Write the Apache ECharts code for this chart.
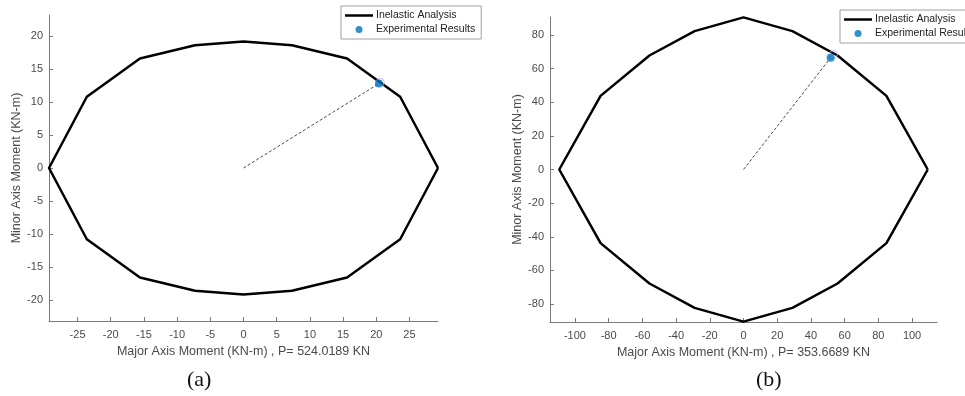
<!DOCTYPE html>
<html>
<head>
<meta charset="utf-8">
<script src="https://cdn.jsdelivr.net/npm/echarts@6/dist/echarts.min.js"></script>
<style>
  html, body { margin: 0; padding: 0; background: #fff; }
  #chart { width: 965px; height: 396px; }
</style>
</head>
<body>
<div id="chart"></div>
<script>
// interaction diagram (a), P = 524.0189 KN
var aMajor = [29.3, 23.6, 15.6, 7.3, 0, -7.3, -15.6, -23.6, -29.3, -23.6, -15.6, -7.3, 0, 7.3, 15.6, 23.6, 29.3];
var aMinor = [0, 10.8, 16.6, 18.6, 19.2, 18.6, 16.6, 10.8, 0, -10.8, -16.6, -18.6, -19.2, -18.6, -16.6, -10.8, 0];
var aExp = [20.4, 12.8];
var aCurve = [20.6, 13.0];
var aXTicks = [-25, -20, -15, -10, -5, 0, 5, 10, 15, 20, 25];
var aYTicks = [-20, -15, -10, -5, 0, 5, 10, 15, 20];

// interaction diagram (b), P = 353.6689 KN
var bMajor = [109.3, 84.8, 55.8, 29, 0, -29, -55.8, -84.8, -109.3, -84.8, -55.8, -29, 0, 29, 55.8, 84.8, 109.3];
var bMinor = [0, 43.8, 67.8, 82.3, 90.5, 82.3, 67.8, 43.8, 0, -43.8, -67.8, -82.3, -90.5, -82.3, -67.8, -43.8, 0];
var bExp = [51.7, 66.5];
var bCurve = [53.3, 68.4];
var bXTicks = [-100, -80, -60, -40, -20, 0, 20, 40, 60, 80, 100];
var bYTicks = [-80, -60, -40, -20, 0, 20, 40, 60, 80];

var FONT = "Liberation Sans";
var AXIS_COLOR = "#7a7a7a";
var TEXT_COLOR = "#4a4a4a";

function pairs(xs, ys) {
  return xs.map(function (x, i) { return [x, ys[i]]; });
}

function xAxisFor(idx, lim, ticks, name) {
  return {
    type: "value", gridIndex: idx, min: -lim, max: lim,
    name: name, nameLocation: "middle", nameGap: 23,
    nameTextStyle: { fontFamily: FONT, fontSize: 12.5, color: TEXT_COLOR },
    axisLine: { onZero: false, lineStyle: { color: AXIS_COLOR, width: 1 } },
    axisTick: { inside: true, length: 4, customValues: ticks, lineStyle: { color: AXIS_COLOR } },
    axisLabel: { customValues: ticks, margin: 8, fontFamily: FONT, fontSize: 11, color: TEXT_COLOR },
    splitLine: { show: false }
  };
}

function yAxisFor(idx, lim, ticks, gap) {
  return {
    type: "value", gridIndex: idx, min: -lim, max: lim,
    name: "Minor Axis Moment (KN-m)", nameLocation: "middle", nameGap: gap,
    nameTextStyle: { fontFamily: FONT, fontSize: 12.5, color: TEXT_COLOR },
    axisLine: { show: true, onZero: false, lineStyle: { color: AXIS_COLOR, width: 1 } },
    axisTick: { show: true, inside: true, length: 4, customValues: ticks, lineStyle: { color: AXIS_COLOR } },
    axisLabel: { customValues: ticks, margin: 6, fontFamily: FONT, fontSize: 11, color: TEXT_COLOR },
    splitLine: { show: false }
  };
}

function seriesFor(idx, major, minor, exp, curve) {
  return [
    {
      name: "Inelastic Analysis", type: "line", xAxisIndex: idx, yAxisIndex: idx,
      data: pairs(major, minor), symbol: "none", silent: true,
      lineStyle: { color: "#000", width: 2.5 }, itemStyle: { color: "#000" }, z: 3
    },
    {
      name: "guide", type: "line", xAxisIndex: idx, yAxisIndex: idx,
      data: [[0, 0], exp], symbol: "none", silent: true,
      lineStyle: { color: "#4a4a4a", width: 1, type: [3, 2] }, z: 2
    },
    {
      name: "curvePoint", type: "scatter", xAxisIndex: idx, yAxisIndex: idx,
      data: [curve], symbolSize: 8, silent: true,
      itemStyle: { color: "rgba(0,0,0,0)", borderColor: "#b4b4f2", borderWidth: 1 }, z: 4
    },
    {
      name: "Experimental Results", type: "scatter", xAxisIndex: idx, yAxisIndex: idx,
      data: [exp], symbolSize: 8, silent: true,
      itemStyle: { color: "#0072BD" }, z: 5
    }
  ];
}

function legendFor(left, top) {
  return {
    data: [
      { name: "Inelastic Analysis", icon: "path://M0,0h28v2.5h-28z", itemStyle: { color: "#000", borderWidth: 0 } },
      { name: "Experimental Results", icon: "circle" }
    ],
    orient: "vertical", left: left, top: top,
    itemWidth: 28, itemHeight: 7, itemGap: 3,
    padding: [4, 6, 4, 4],
    borderColor: "#a0a0a0", borderWidth: 1,
    selectedMode: false,
    textStyle: { fontFamily: FONT, fontSize: 10.5, color: "#222", padding: [0, 0, 0, -2] }
  };
}

var chart = echarts.init(document.getElementById("chart"), null, { renderer: "canvas" });
chart.setOption({
  animation: false,
  backgroundColor: "#fff",
  grid: [
    { left: 49, top: 15, width: 389, height: 306 },
    { left: 550, top: 17, width: 387, height: 305 }
  ],
  xAxis: [
    xAxisFor(0, 29.3, aXTicks, "Major Axis Moment (KN-m) , P= 524.0189 KN"),
    xAxisFor(1, 114.8, bXTicks, "Major Axis Moment (KN-m) , P= 353.6689 KN")
  ],
  yAxis: [
    yAxisFor(0, 23.2, aYTicks, 25),
    yAxisFor(1, 90.7, bYTicks, 26)
  ],
  legend: [legendFor(341, 6), legendFor(840, 10)],
  title: [
    { text: "(a)", left: 182, top: 364, textStyle: { fontFamily: "Liberation Serif", fontSize: 22, fontWeight: "normal", color: "#111" } },
    { text: "(b)", left: 751, top: 364, textStyle: { fontFamily: "Liberation Serif", fontSize: 22, fontWeight: "normal", color: "#111" } }
  ],
  series: seriesFor(0, aMajor, aMinor, aExp, aCurve).concat(seriesFor(1, bMajor, bMinor, bExp, bCurve))
});
</script>
</body>
</html>
